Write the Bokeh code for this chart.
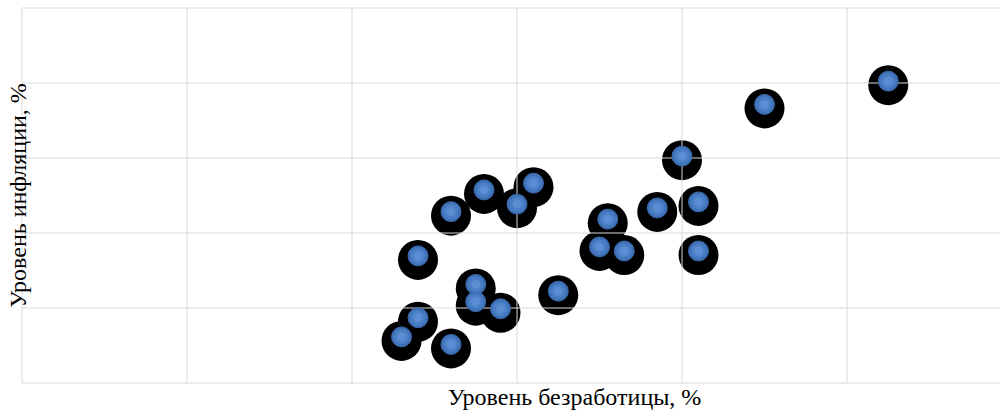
import math
from bokeh.plotting import figure
from bokeh.models import Range1d, Label, ColumnDataSource
from bokeh.transform import dodge
from bokeh.embed import file_html
from bokeh.resources import INLINE

# Data
unemployment = [4.6, 4.8, 5.2, 4.8, 5.2, 5.5, 5.5, 5.8, 5.6, 6.0, 6.2,
                6.5, 7.0, 7.1, 7.3, 7.7, 8.0, 8.2, 8.2, 9.0, 10.5]
inflation = [1.23, 1.74, 1.03, 3.39, 4.57, 2.63, 2.17, 1.98, 5.15, 4.77, 5.33,
             2.45, 3.63, 4.37, 3.52, 4.67, 6.05, 4.83, 3.52, 7.43, 8.05]
x_grid_ticks = [0, 2, 4, 6, 8, 10, 12]
y_grid_ticks = [0, 2, 4, 6, 8, 10]
x_label = "Уровень безработицы, %"
y_label = "Уровень инфляции, %"

src = ColumnDataSource(dict(x=unemployment, y=inflation))

p = figure(width=1000, height=410, output_backend="svg", toolbar_location=None,
           x_axis_type=None, y_axis_type=None,
           x_range=Range1d(-0.26061, 11.8606), y_range=Range1d(-0.7333, 10.2),
           min_border_left=0, min_border_right=0, min_border_top=0,
           min_border_bottom=0)
p.outline_line_color = None
p.background_fill_color = "white"
p.xgrid.visible = False
p.ygrid.visible = False

# grid lines, bounded to the plot area (drawn from the tick lists)
ymin, ymax = min(y_grid_ticks), max(y_grid_ticks)
xmin, xmax = min(x_grid_ticks), max(x_grid_ticks)
p.segment(x0=x_grid_ticks, y0=[ymin] * len(x_grid_ticks),
          x1=x_grid_ticks, y1=[ymax] * len(x_grid_ticks),
          line_color="#d9d9d9", line_width=1, level="underlay")
p.segment(x0=[xmin] * len(y_grid_ticks), y0=y_grid_ticks,
          x1=[xmax] * len(y_grid_ticks), y1=y_grid_ticks,
          line_color="#d9d9d9", line_width=1, level="underlay")

# black "shadow" circles, below the grid
p.scatter(x="x", y=dodge("y", -0.107, range=p.y_range), source=src,
          size=40, fill_color="black", line_color=None, level="image")
# blue markers with lighter centre
p.scatter(x="x", y="y", source=src, size=20, fill_color="#3f72b8",
          line_color="#3a66a6", line_width=1)
p.scatter(x="x", y="y", source=src, size=15, fill_color="#4a7fc6",
          line_color=None)
p.scatter(x="x", y="y", source=src, size=9, fill_color="#5a8dd2",
          line_color=None)

p.add_layout(Label(x=6.697, y=-0.373, text=x_label, text_align="center",
                   text_baseline="alphabetic", text_font="Liberation Serif",
                   text_font_size="24px", text_color="black"))
p.add_layout(Label(x=-0.048, y=5.0, text=y_label, angle=math.pi / 2,
                   text_align="center", text_baseline="alphabetic",
                   text_font="Liberation Serif", text_font_size="24px",
                   text_color="black"))

open("out.html", "w").write(file_html(p, INLINE))
